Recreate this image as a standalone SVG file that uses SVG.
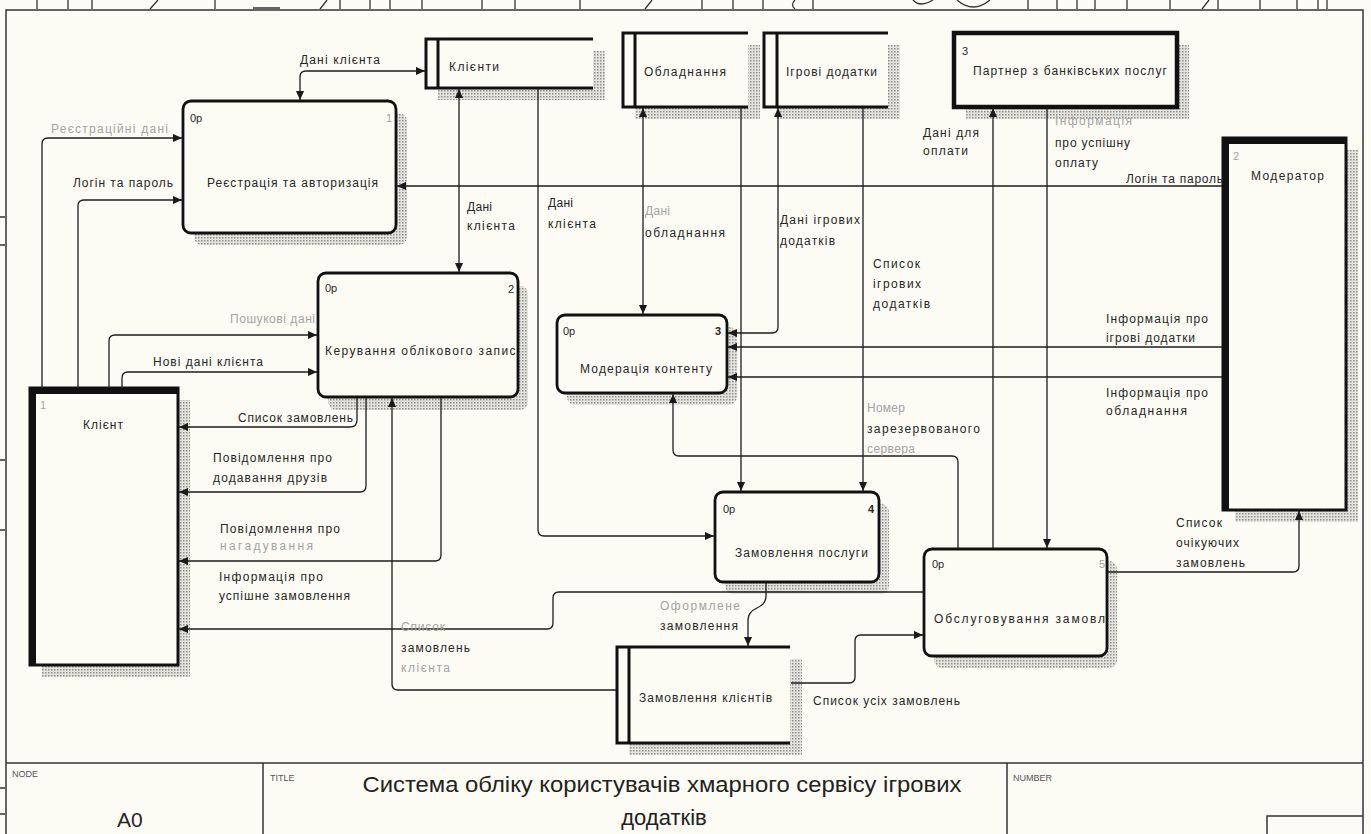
<svg xmlns="http://www.w3.org/2000/svg" width="1371" height="834" viewBox="0 0 1371 834">
<defs>
<style>
.bg{fill:#fcfcf5}
.frm{fill:none;stroke:#333;stroke-width:1.5}
.tick{fill:none;stroke:#333;stroke-width:1.3}
.ln{fill:none;stroke:#1c1c1c;stroke-width:1.3}
.ae{marker-end:url(#ah)}
.as{marker-start:url(#ah)}
.box{fill:#fcfcf5;stroke:#111;stroke-width:2.8}
.ent{fill:#fcfcf5;stroke:#111;stroke-width:3}
.thk{fill:none;stroke:#111;stroke-width:6}
.st{fill:none;stroke:#111;stroke-width:3}
.sh{fill:url(#dots)}
text{font-family:"Liberation Sans","DejaVu Sans",Arial,sans-serif;font-size:12px;fill:#262626}
.f{fill:#a3a3a3}
.n{font-size:11px}
.tb{font-size:9px;fill:#555}
.ttl{font-size:22px;fill:#222}
</style>
<pattern id="dots" width="3" height="3" patternUnits="userSpaceOnUse"><rect width="3" height="3" fill="#e4e4dc"/><rect width="1.5" height="1.5" fill="#8f8f8f"/></pattern>
<marker id="ah" viewBox="0 0 10 10" refX="10" refY="5" markerWidth="10" markerHeight="9" markerUnits="userSpaceOnUse" orient="auto-start-reverse"><path d="M0,0.5 L10,5 L0,9.5 z" fill="#1a1a1a"/></marker>
<clipPath id="c2"><rect x="320" y="275" width="196" height="120"/></clipPath>
<clipPath id="c5"><rect x="926" y="551" width="179" height="103"/></clipPath>
</defs>

<rect class="bg" x="0" y="0" width="1371" height="834"/>

<g id="frame">
<rect class="frm" x="6" y="10" width="1357" height="830"/>
<line class="frm" x1="6" y1="763" x2="1363" y2="763"/>
<line class="frm" x1="263" y1="763" x2="263" y2="834"/>
<line class="frm" x1="1007" y1="763" x2="1007" y2="834"/>
<path class="frm" d="M1267 834 V816 H1363"/>
<path class="tick" d="M37 0V9 M68 0V9 M92 0V9 M150 9L158 0 M215 0V9 M253 8H280 M320 9L327 0 M340 0V9 M370 0V9 M390 0V9 M422 0V9 M482 0V9 M515 0V9 M580 0V9 M645 9L652 0 M702 0V9 M733 0V9 M763 0V9 M795 0Q790 5 795 9 M813 0V9 M913 0Q920 8 933 0 M957 0Q973 14 990 0 M1028 0V9 M1057 0V9 M1077 0V9 M1095 0V9 M1127 0V9 M1170 0V9 M1202 9L1209 0 M1218 0V9 M1260 0V9 M1297 0V9 M1318 0V9 M1327 0V9"/>
<path class="tick" d="M0 217H5 M0 245H5 M0 460H5 M0 530H5 M0 788H5 M0 814H5"/>
<text class="tb" x="12" y="777">NODE</text>
<text x="117" y="827" style="font-size:21px">A0</text>
<text class="tb" x="270" y="781">TITLE</text>
<text class="ttl" x="662" y="792" text-anchor="middle" textLength="599" lengthAdjust="spacingAndGlyphs">Система обліку користувачів хмарного сервісу ігрових</text>
<text class="ttl" x="664" y="825" text-anchor="middle">додатків</text>
<text class="tb" x="1013" y="781">NUMBER</text>
</g>

<g id="p1">
<rect class="sh" x="194" y="113" width="213" height="132" rx="8"/>
<rect class="box" x="183" y="101" width="213" height="132" rx="8"/>
<text class="n" x="190" y="122">0р</text>
<text class="n f" x="386" y="122">1</text>
<text x="207" y="187" textLength="171">Реєстрація та авторизація</text>
</g>

<g id="p2">
<rect class="sh" x="328" y="286" width="200" height="124" rx="8"/>
<rect class="box" x="318" y="273" width="200" height="124" rx="8"/>
<text class="n" x="325" y="292">0р</text>
<text class="n" x="508" y="293">2</text>
<text x="325" y="355" textLength="198" clip-path="url(#c2)">Керування облікового запису</text>
</g>

<g id="p3">
<rect class="sh" x="567" y="327" width="170" height="78" rx="8"/>
<rect class="box" x="557" y="315" width="170" height="78" rx="8"/>
<text class="n" x="563" y="335">0р</text>
<text class="n" x="715" y="335" style="font-weight:bold">3</text>
<text x="580" y="373" textLength="132">Модерація контенту</text>
</g>

<g id="p4">
<rect class="sh" x="725" y="504" width="164" height="90" rx="8"/>
<rect class="box" x="715" y="492" width="164" height="90" rx="8"/>
<text class="n" x="723" y="513">0р</text>
<text class="n" x="868" y="513" style="font-weight:bold">4</text>
<text x="735" y="557" textLength="133">Замовлення послуги</text>
</g>

<g id="p5">
<rect class="sh" x="934" y="561" width="183" height="107" rx="8"/>
<rect class="box" x="924" y="549" width="183" height="107" rx="8"/>
<text class="n" x="932" y="568">0р</text>
<text class="n f" x="1099" y="568">5</text>
<text x="934" y="623" textLength="196" clip-path="url(#c5)">Обслуговування замовлень</text>
</g>

<g id="e1">
<rect class="sh" x="42" y="400" width="148" height="277"/>
<rect class="ent" x="30" y="388" width="148" height="277"/>
<path class="thk" d="M33 665 V391 H178"/>
<text class="n f" x="40" y="409">1</text>
<text x="83" y="429" textLength="40">Клієнт</text>
</g>

<g id="e2">
<rect class="sh" x="1235" y="150" width="123" height="372"/>
<rect class="ent" x="1223" y="138" width="123" height="372"/>
<path class="thk" d="M1226 510 V141 H1346"/>
<text class="n f" x="1233" y="160">2</text>
<text x="1251" y="180" textLength="73">Модератор</text>
</g>

<g id="e3">
<rect class="sh" x="966" y="45" width="223" height="74"/>
<rect class="ent" x="954" y="33" width="223" height="74" style="stroke-width:4.5"/>
<text class="n" x="962" y="55">3</text>
<text x="973" y="75" textLength="194">Партнер з банківських послуг</text>
</g>

<g id="s1">
<rect class="sh" x="438" y="51" width="167" height="49"/>
<rect class="bg" x="426" y="39" width="167" height="49"/>
<path class="st" d="M593 39 H426 V88 H593 M438 39 V88"/>
<text x="449" y="71" textLength="50">Клієнти</text>
</g>

<g id="s2">
<rect class="sh" x="635" y="45" width="125" height="74"/>
<rect class="bg" x="623" y="33" width="125" height="74"/>
<path class="st" d="M748 33 H623 V107 H748 M635 33 V107"/>
<text x="644" y="76" textLength="82">Обладнання</text>
</g>

<g id="s3">
<rect class="sh" x="776" y="45" width="124" height="74"/>
<rect class="bg" x="764" y="33" width="124" height="74"/>
<path class="st" d="M888 33 H764 V107 H888 M777 33 V107"/>
<text x="786" y="76" textLength="91">Ігрові додатки</text>
</g>

<g id="s4">
<rect class="sh" x="629" y="659" width="173" height="96"/>
<rect class="bg" x="617" y="647" width="173" height="96"/>
<path class="st" d="M790 647 H617 V743 H790 M629 647 V743"/>
<text x="639" y="702" textLength="133">Замовлення клієнтів</text>
</g>

<g id="connectors">
<path id="c-a" class="ln ae as" d="M425 71 H306 Q300 71 300 77 V100"/>
<path id="c-b" class="ln ae" d="M42 388 V144 Q42 138 48 138 H182"/>
<path id="c-c" class="ln ae" d="M78 388 V206 Q78 200 84 200 H182"/>
<path id="c-d" class="ln ae" d="M1222 186 H397"/>
<path id="c-e" class="ln ae as" d="M459 89 V272"/>
<path id="c-f" class="ln ae" d="M538 89 V530 Q538 536 544 536 H714"/>
<path id="c-g" class="ln ae as" d="M643 108 V314"/>
<path id="c-h" class="ln ae" d="M741 108 V491"/>
<path id="c-i" class="ln ae as" d="M778 108 V327 Q778 333 772 333 H728"/>
<path id="c-j" class="ln ae" d="M863 108 V491"/>
<path id="c-k" class="ln ae" d="M1222 347 H728"/>
<path id="c-l" class="ln ae" d="M1222 377 H728"/>
<path id="c-m" class="ln ae" d="M958 548 V462 Q958 456 952 456 H679 Q673 456 673 450 V394"/>
<path id="c-n" class="ln ae" d="M993 548 V108"/>
<path id="c-o" class="ln ae" d="M1047 108 V548"/>
<path id="c-p" class="ln ae" d="M1108 572 H1293 Q1299 572 1299 566 V511"/>
<path id="c-q" class="ln ae" d="M766 583 V596 Q766 604 757 608 Q748 612 748 620 V646"/>
<path id="c-r" class="ln ae" d="M923 592 H559 Q553 592 553 598 V623 Q553 629 547 629 H179"/>
<path id="c-s" class="ln ae" d="M357 398 V420 Q357 427 350 427 H179"/>
<path id="c-t" class="ln ae" d="M366 398 V486 Q366 492 360 492 H179"/>
<path id="c-u" class="ln ae" d="M441 398 V555 Q441 561 435 561 H179"/>
<path id="c-v" class="ln ae" d="M616 690 H398 Q392 690 392 684 V398"/>
<path id="c-w" class="ln ae" d="M109 388 V341 Q109 335 115 335 H317"/>
<path id="c-x" class="ln ae" d="M122 388 V378 Q122 372 128 372 H317"/>
<path id="c-y" class="ln ae" d="M791 683 H849 Q855 683 855 677 V641 Q855 635 861 635 H923"/>
</g>

<g id="flow-labels">
<text x="300" y="64" textLength="80">Дані клієнта</text>
<text class="f" x="51" y="133" textLength="117">Реєстраційні дані</text>
<text x="73" y="187" textLength="100">Логін та пароль</text>
<text x="1126" y="183" textLength="97">Логін та пароль</text>
<text x="467" y="211" textLength="25">Дані</text>
<text x="467" y="230" textLength="48">клієнта</text>
<text x="548" y="207" textLength="25">Дані</text>
<text x="548" y="228" textLength="48">клієнта</text>
<text class="f" x="645" y="215" textLength="25">Дані</text>
<text x="645" y="237" textLength="80">обладнання</text>
<text x="780" y="224" textLength="80">Дані ігрових</text>
<text x="780" y="245" textLength="55">додатків</text>
<text x="923" y="137" textLength="56">Дані для</text>
<text x="923" y="155" textLength="45">оплати</text>
<text class="f" x="1055" y="125" textLength="77">Інформація</text>
<text x="1055" y="147" textLength="75">про успішну</text>
<text x="1055" y="167" textLength="43">оплату</text>
<text x="873" y="268" textLength="47">Список</text>
<text x="873" y="288" textLength="48">ігрових</text>
<text x="873" y="308" textLength="57">додатків</text>
<text x="1106" y="323" textLength="102">Інформація про</text>
<text x="1106" y="342" textLength="89">ігрові додатки</text>
<text x="1106" y="397" textLength="102">Інформація про</text>
<text x="1106" y="415" textLength="81">обладнання</text>
<text class="f" x="867" y="412" textLength="38">Номер</text>
<text x="867" y="433" textLength="113">зарезервованого</text>
<text class="f" x="867" y="453" textLength="48">сервера</text>
<text x="1176" y="527" textLength="46">Список</text>
<text x="1176" y="547" textLength="63">очікуючих</text>
<text x="1176" y="567" textLength="69">замовлень</text>
<text class="f" x="230" y="323" textLength="85">Пошукові дані</text>
<text x="153" y="366" textLength="110">Нові дані клієнта</text>
<text x="238" y="422" textLength="115">Список замовлень</text>
<text x="213" y="462" textLength="119">Повідомлення про</text>
<text x="213" y="482" textLength="114">додавання друзів</text>
<text x="220" y="533" textLength="120">Повідомлення про</text>
<text class="f" x="220" y="550" textLength="93">нагадування</text>
<text x="219" y="581" textLength="104">Інформація про</text>
<text x="219" y="600" textLength="131">успішне замовлення</text>
<text class="f" x="401" y="631" textLength="44">Список</text>
<text x="401" y="652" textLength="69">замовлень</text>
<text class="f" x="401" y="672" textLength="49">клієнта</text>
<text class="f" x="660" y="610" textLength="80">Оформлене</text>
<text x="660" y="630" textLength="78">замовлення</text>
<text x="813" y="705" textLength="147">Список усіх замовлень</text>
</g>
</svg>
